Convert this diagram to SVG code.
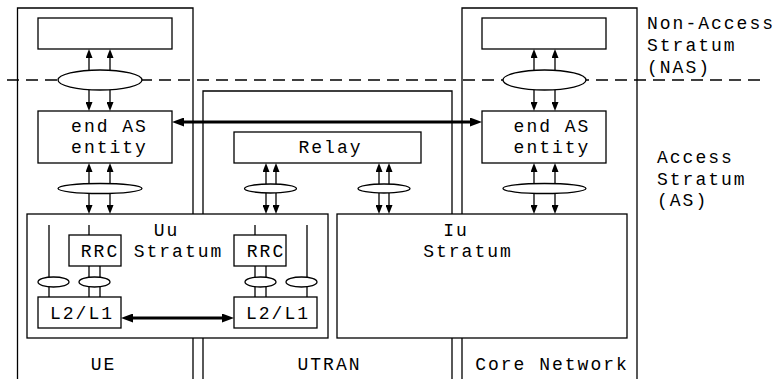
<svg xmlns="http://www.w3.org/2000/svg" width="781" height="379" viewBox="0 0 781 379">
  <style>
    .box { fill: #fff; stroke: #000; stroke-width: 1.3; }
    .frame { fill: none; stroke: #000; stroke-width: 1.3; }
    .sap { fill: #fff; stroke: #000; stroke-width: 1.3; }
    .ln { fill: none; stroke: #000; stroke-width: 1.3; }
    .thin { fill: none; stroke: #000; stroke-width: 1.3; marker-end: url(#head); }
    .thick { fill: none; stroke: #000; stroke-width: 3; marker-start: url(#bighead); marker-end: url(#bighead); }
    .dash { fill: none; stroke: #000; stroke-width: 1.3; stroke-dasharray: 12 7; }
    text { font-family: "Liberation Mono", "DejaVu Sans Mono", monospace; font-size: 18px; letter-spacing: 2px; fill: #000; }
    .c { text-anchor: middle; }
  </style>
  <defs>
    <marker id="head" viewBox="0 0 9 7" markerUnits="userSpaceOnUse" markerWidth="9" markerHeight="7" refX="0" refY="3.5" orient="auto">
      <path d="M0,0 L9,3.5 L0,7 z" fill="#000"/>
    </marker>
    <marker id="bighead" viewBox="0 0 12 9" markerUnits="userSpaceOnUse" markerWidth="12" markerHeight="9" refX="0" refY="4.5" orient="auto-start-reverse">
      <path d="M0,0 L12,4.5 L0,9 z" fill="#000"/>
    </marker>
  </defs>

  <!-- NAS / AS boundary -->
  <line class="dash" x1="7" y1="80" x2="762" y2="80"/>

  <!-- domain frames -->
  <g id="ue">
    <path class="frame" d="M17.5,379 V8 H193 V379"/>
    <text class="c" x="103.5" y="370">UE</text>
  </g>
  <g id="utran">
    <path class="frame" d="M203,379 V91 H452 V379"/>
    <text class="c" x="329.5" y="370">UTRAN</text>
  </g>
  <g id="cn">
    <path class="frame" d="M462,379 V8 H637 V379"/>
    <text class="c" x="552" y="370">Core Network</text>
  </g>

  <!-- connectors -->
  <g id="connectors">
    <!-- UE: NAS <-> end AS entity -->
    <line class="thin" x1="89" y1="70" x2="89" y2="58"/>
    <line class="thin" x1="110" y1="70" x2="110" y2="58"/>
    <line class="thin" x1="89" y1="90" x2="89" y2="102"/>
    <line class="thin" x1="110" y1="90" x2="110" y2="102"/>
    <!-- UE: end AS entity <-> Uu stratum -->
    <line class="thin" x1="89" y1="183.5" x2="89" y2="172"/>
    <line class="thin" x1="110" y1="183.5" x2="110" y2="172"/>
    <line class="thin" x1="89" y1="193.5" x2="89" y2="205"/>
    <line class="thin" x1="110" y1="193.5" x2="110" y2="205"/>
    <!-- CN: NAS <-> end AS entity -->
    <line class="thin" x1="534" y1="70" x2="534" y2="58"/>
    <line class="thin" x1="555" y1="70" x2="555" y2="58"/>
    <line class="thin" x1="534" y1="90" x2="534" y2="102"/>
    <line class="thin" x1="555" y1="90" x2="555" y2="102"/>
    <!-- CN: end AS entity <-> Iu stratum -->
    <line class="thin" x1="534" y1="183.5" x2="534" y2="172"/>
    <line class="thin" x1="555" y1="183.5" x2="555" y2="172"/>
    <line class="thin" x1="534" y1="193.5" x2="534" y2="205"/>
    <line class="thin" x1="555" y1="193.5" x2="555" y2="205"/>
    <!-- UTRAN: Relay <-> Uu stratum -->
    <line class="thin" x1="266" y1="184" x2="266" y2="172"/>
    <line class="thin" x1="276" y1="184" x2="276" y2="172"/>
    <line class="thin" x1="266" y1="193" x2="266" y2="205"/>
    <line class="thin" x1="276" y1="193" x2="276" y2="205"/>
    <!-- UTRAN: Relay <-> Iu stratum -->
    <line class="thin" x1="379" y1="184" x2="379" y2="172"/>
    <line class="thin" x1="389" y1="184" x2="389" y2="172"/>
    <line class="thin" x1="379" y1="193" x2="379" y2="205"/>
    <line class="thin" x1="389" y1="193" x2="389" y2="205"/>
  </g>

  <!-- service access points -->
  <g id="sap-ue-nas"><ellipse class="sap" cx="100" cy="80" rx="42" ry="10"/></g>
  <g id="sap-cn-nas"><ellipse class="sap" cx="544.5" cy="80" rx="41.5" ry="10"/></g>
  <g id="sap-ue-as"><ellipse class="sap" cx="100" cy="188.5" rx="42" ry="5"/></g>
  <g id="sap-cn-as"><ellipse class="sap" cx="544.5" cy="188.5" rx="41.5" ry="5"/></g>
  <g id="sap-relay-uu"><ellipse class="sap" cx="270.5" cy="188.5" rx="26" ry="4.5"/></g>
  <g id="sap-relay-iu"><ellipse class="sap" cx="384" cy="188.5" rx="26" ry="4.5"/></g>

  <!-- upper entities -->
  <g id="nas-ue"><rect class="box" x="38" y="18" width="134" height="31"/></g>
  <g id="nas-cn"><rect class="box" x="482" y="18" width="124" height="31"/></g>
  <g id="as-ue">
    <rect class="box" x="38" y="111" width="134" height="52"/>
    <text class="c" x="109.5" y="132">end AS</text>
    <text class="c" x="109.5" y="153">entity</text>
  </g>
  <g id="as-cn">
    <rect class="box" x="482" y="111" width="124" height="52"/>
    <text class="c" x="552" y="132">end AS</text>
    <text class="c" x="552" y="153">entity</text>
  </g>
  <g id="relay">
    <rect class="box" x="234" y="132" width="187" height="31"/>
    <text class="c" x="330.5" y="153">Relay</text>
  </g>

  <!-- peer link between end AS entities -->
  <line class="thick" x1="184" y1="122" x2="470" y2="122"/>

  <!-- Uu stratum -->
  <g id="uu">
    <rect class="box" x="27" y="214" width="301" height="124"/>
    <text class="c" x="166.5" y="236">Uu</text>
    <text class="c" x="178.5" y="257">Stratum</text>
    <!-- internal SAP lines -->
    <line class="ln" x1="49" y1="225" x2="49" y2="297"/>
    <line class="ln" x1="89" y1="225" x2="89" y2="235"/>
    <line class="ln" x1="89" y1="266" x2="89" y2="297"/>
    <line class="ln" x1="100" y1="266" x2="100" y2="297"/>
    <line class="ln" x1="255" y1="225" x2="255" y2="235"/>
    <line class="ln" x1="255" y1="266" x2="255" y2="297"/>
    <line class="ln" x1="266" y1="266" x2="266" y2="297"/>
    <line class="ln" x1="307" y1="225" x2="307" y2="297"/>
    <ellipse class="sap" cx="53.5" cy="282" rx="15.5" ry="5"/>
    <ellipse class="sap" cx="94.5" cy="282" rx="15.5" ry="5"/>
    <ellipse class="sap" cx="260.5" cy="282" rx="15.5" ry="5"/>
    <ellipse class="sap" cx="301.5" cy="282" rx="15.5" ry="5"/>
  </g>
  <g id="rrc-ue">
    <rect class="box" x="69" y="235" width="52" height="31"/>
    <text class="c" x="100" y="257">RRC</text>
  </g>
  <g id="rrc-utran">
    <rect class="box" x="234" y="235" width="52" height="31"/>
    <text class="c" x="266" y="257">RRC</text>
  </g>
  <g id="l2l1-ue">
    <rect class="box" x="38" y="297" width="83" height="31"/>
    <text class="c" x="82" y="319">L2/L1</text>
  </g>
  <g id="l2l1-utran">
    <rect class="box" x="234" y="297" width="83" height="31"/>
    <text class="c" x="278" y="319">L2/L1</text>
  </g>
  <line class="thick" x1="133" y1="318" x2="222" y2="318"/>

  <!-- Iu stratum -->
  <g id="iu">
    <rect class="box" x="337" y="214" width="290" height="124"/>
    <text class="c" x="456" y="236">Iu</text>
    <text class="c" x="468" y="257">Stratum</text>
  </g>

  <!-- stratum labels -->
  <g id="label-nas">
    <text x="647" y="29">Non-Access</text>
    <text x="647" y="51">Stratum</text>
    <text x="647" y="73">(NAS)</text>
  </g>
  <g id="label-as">
    <text x="657" y="163">Access</text>
    <text x="657" y="185">Stratum</text>
    <text x="657" y="206">(AS)</text>
  </g>
</svg>
